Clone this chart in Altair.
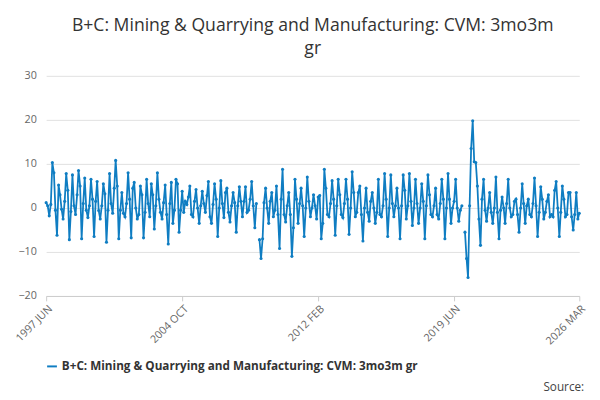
import altair as alt
import pandas as pd

# monthly values, 1997 JUN .. 2026 MAR
v1997 = [1.2, 0.5, -1.8, 0.8, 10.3, 8, -0.5]
v1998 = [-6.2, 5.2, 3, -0.3, -2.5, 1.5, 7.8, 4, -7.2, -0.8, 7.5, 0.5]
v1999 = [-1.5, 3, 8.5, 5, -7, 1, 6.8, -0.5, -2.2, 0.5, 6.5, 2]
v2000 = [-6.5, 1.5, 6, -0.6, -2.5, 0.5, 5.5, 3.2, -7.8, -0.5, 7.8, 1]
v2001 = [-1.2, 4.5, 10.8, 5, -7, -0.5, 3.5, -1.2, -2, 1, 8, 2]
v2002 = [-6.8, 4.5, 5.8, 0, -2.5, -1.5, 5, 3, -6.8, -1, 6.5, 1]
v2003 = [-2, 5.5, 3, -4.8, 0.5, 8, 2, -1, -2.5, 1.2, 5.2, -1.5]
v2004 = [-8.2, 1, 5.8, -3.5, -0.5, 6.5, 5.5, -5.5, -0.5, 3.8, -1, 1.5]
v2005 = [0.8, 2.5, 5, -1.5, -2, 1.5, 4.2, 0, -3.5, 0.5, 3.8, 1]
v2006 = [-1, 2.8, 6, -2, -3.5, 0.8, 5.5, 2, -6.5, 0, 6.2, 1]
v2007 = [-2.2, 3.5, 4.5, -1, -3.2, 0.5, 3.5, 1.2, -5.5, 0.5, 4.8, 1.5]
v2008 = [-2, 1.5, 4.8, -1, -0.5, 2, 6, 0.5, -4.5, 1, None, -7.2]
v2009 = [-11.5, -7, 1.2, 4.5, 0, -3.5, 1.5, 3.5, -2, -0.5, 5, -1.5]
v2010 = [-9.2, 2, 8.8, -1.5, -3.2, 0.5, 3.5, -1.5, -11, -4.5, 6.5, 2]
v2011 = [-3.5, 1, 4.5, 0.5, -6.5, 0, 7, 1.5, -2, 0, 3, 0.5]
v2012 = [-2.5, 2.5, 2.8, -7, -3.5, 8.8, 4.5, -1.5, -2, 1, 6.2, 2]
v2013 = [-6.2, 0.5, 6.5, 3, -1.5, -2.2, 1, 6.5, 2, -6, 0, 8.2]
v2014 = [3.5, -2, -1, 3.5, 5, -1.5, -7.5, 0, 4.5, -1, -3, 1.5]
v2015 = [3.5, 0, -3.5, -1, 6.5, -1.5, -2, 0.5, 7.8, 2, -6.5, 0]
v2016 = [7.5, 1, -2, 0.5, 4.5, 0, -7, 0.5, 7.5, 4, -2.5, 0.5]
v2017 = [7.8, 1.5, -4, 0, 6.5, 1, -3.5, 0, 5.5, 1.5, -7, 0.5]
v2018 = [7.5, 3, -1.5, -2, 0.5, 4.5, -1.5, -2.5, 1, 6.5, 2, -7]
v2019 = [0, 7.8, 2, -3.5, 0, 1.5, 6.5, 0, -3, -0.5, 0.5, None]
v2020 = [-5.5, -11.5, -15.8, 0.5, 13.5, 19.8, 10.5, 10.3, 5, -2.5, -8.5, 2]
v2021 = [6.5, -0.5, -3, 0, 3.5, -1, -3.5, 0, 7, -1, -7, -0.5]
v2022 = [2.5, 0, -3.5, 1, 6.5, 0, -2, -1.5, 1.5, 2, -1.5, -5.5]
v2023 = [0, 5.5, 1, -3.5, 0.5, 2, -1.5, -2, 1, 6.8, 0.5, -6.5]
v2024 = [-1, 4.8, 2, -2.5, -1, 1.5, 3, -2, -1.5, -2, 4, 6]
v2025 = [0, -6.5, -1, 5, 2, -2, -1.5, 3.5, 3.5, -2, -5, -1.5]
v2026 = [3.5, -2.5, -1.2]

values = (v1997 + v1998 + v1999 + v2000 + v2001 + v2002 + v2003 + v2004 + v2005
          + v2006 + v2007 + v2008 + v2009 + v2010 + v2011 + v2012 + v2013 + v2014
          + v2015 + v2016 + v2017 + v2018 + v2019 + v2020 + v2021 + v2022 + v2023
          + v2024 + v2025 + v2026)
series = "B+C: Mining & Quarrying and Manufacturing: CVM: 3mo3m gr"

months = pd.date_range("1997-06-01", periods=len(values), freq="MS")
df = pd.DataFrame({"date": months, "value": values, "series": series})

tick_dates = [alt.DateTime(year=1997, month=6, date=1), alt.DateTime(year=2004, month=10, date=1),
              alt.DateTime(year=2012, month=2, date=1), alt.DateTime(year=2019, month=6, date=1),
              alt.DateTime(year=2026, month=3, date=1)]

line = alt.Chart(df).mark_line(point=alt.OverlayMarkDef(size=10, filled=True), strokeWidth=1.8).encode(
    alt.X("date:T", axis=alt.Axis(values=tick_dates, labelAngle=-45, grid=False, ticks=True,
                                  labelExpr="upper(timeFormat(datum.value, '%Y %b'))",
                                  labelColor="#666", labelFontSize=11, domainColor="#ccc",
                                  tickColor="#ccc", labelAlign="right", labelBaseline="top")).title(None),
    alt.Y("value:Q", axis=alt.Axis(values=[-20, -10, 0, 10, 20, 30], domain=False, ticks=False,
                                   gridColor="#e0e0e0", labelColor="#666", labelFontSize=11,
                                   labelPadding=10)).scale(domain=[-20, 30]).title(None),
    color=alt.Color("series:N", scale=alt.Scale(range=["#0f7dc2"]),
                    legend=alt.Legend(orient="bottom", title=None, symbolType="stroke",
                                      symbolStrokeWidth=2, labelFontSize=12, labelFontWeight="bold",
                                      labelColor="#333", labelLimit=500, offset=14))
)

source = alt.Chart(pd.DataFrame({"t": ["Source:"]})).mark_text(
    align="right", baseline="bottom", fontSize=12, color="#444", font="Open Sans"
).encode(text="t:N", x=alt.value(550), y=alt.value(325))

chart = alt.layer(line, source).properties(
    width=545, height=225,
    title=alt.TitleParams(["B+C: Mining & Quarrying and Manufacturing: CVM: 3mo3m", "gr"],
                          fontSize=18, lineHeight=24, font="Open Sans", fontWeight="normal",
                          color="#333", anchor="middle", offset=12)
).configure_view(stroke=None).configure_axis(labelFont="Open Sans").configure_legend(labelFont="Open Sans")

chart.save("out.html", embed_options={"renderer": "svg", "actions": False})
